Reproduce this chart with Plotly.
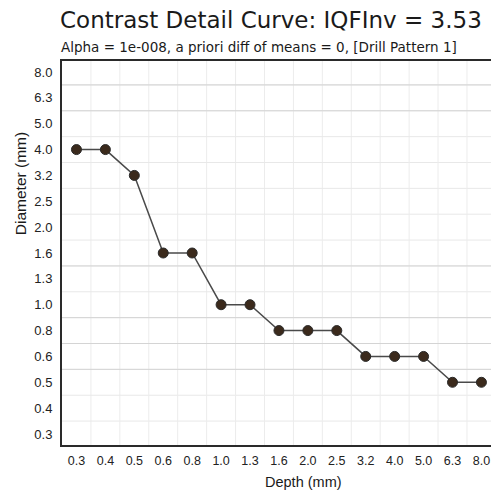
import plotly.graph_objects as go

depth_labels = ["0.3", "0.4", "0.5", "0.6", "0.8", "1.0", "1.3", "1.6", "2.0", "2.5", "3.2", "4.0", "5.0", "6.3", "8.0"]
diameter_labels = ["0.3", "0.4", "0.5", "0.6", "0.8", "1.0", "1.3", "1.6", "2.0", "2.5", "3.2", "4.0", "5.0", "6.3", "8.0"]
depth = ["0.3", "0.4", "0.5", "0.6", "0.8", "1.0", "1.3", "1.6", "2.0", "2.5", "3.2", "4.0", "5.0", "6.3", "8.0"]
diameter = ["4.0", "4.0", "3.2", "1.6", "1.6", "1.0", "1.0", "0.8", "0.8", "0.8", "0.6", "0.6", "0.6", "0.5", "0.5"]

fig = go.Figure()
fig.add_trace(go.Scatter(
    x=depth, y=diameter, mode="lines+markers",
    line=dict(color="#4a4a4a", width=1.5),
    marker=dict(size=10, color="#3b2a1c", line=dict(color="#2a2a2a", width=1)),
    showlegend=False,
))

n = len(depth_labels)
shapes = []
for i in range(n - 1):
    b = i + 0.5
    shapes.append(dict(type="line", xref="x", yref="paper", x0=b, x1=b, y0=0, y1=1,
                       line=dict(color="#ececec", width=1), layer="below"))
    shapes.append(dict(type="line", xref="paper", yref="y", x0=0, x1=1, y0=b, y1=b,
                       line=dict(color="#e8e8e8", width=1), layer="below"))
for b in [2.5, 3.5, 4.5, 6.5, 12.5, 13.5]:
    shapes.append(dict(type="line", xref="paper", yref="y", x0=0, x1=1, y0=b, y1=b,
                       line=dict(color="#d4d4d4", width=1), layer="below"))

OFF = 8
PL, PR, PT, PB = 62, 495, 61, 445
W, H = 499 - OFF, 490 - OFF

def px(x):
    return (x - PL) / (PR - PL)

def py(y):
    return (PB - y) / (PB - PT)

fig.update_layout(
    width=W, height=H,
    margin=dict(l=PL - OFF, r=W - (PR - OFF), t=PT - OFF, b=H - (PB - OFF)),
    paper_bgcolor="white", plot_bgcolor="white",
    font=dict(family="Liberation Sans, Arial, sans-serif", color="#222222", size=12),
    shapes=shapes,
    xaxis=dict(type="category", categoryorder="array", categoryarray=depth_labels,
               range=[-0.5, 14.4], showgrid=False, zeroline=False,
               showline=True, mirror=True, linecolor="#2a2a2a", linewidth=2,
               ticks="", ticklabelstandoff=3, tickfont=dict(size=12.5, color="#222222")),
    yaxis=dict(type="category", categoryorder="array", categoryarray=diameter_labels,
               range=[-0.425, 14.425], showgrid=False, zeroline=False,
               showline=True, mirror=True, linecolor="#2a2a2a", linewidth=2,
               ticks="", ticklabelstandoff=5, tickfont=dict(size=13, color="#222222")),
    annotations=[
        dict(text="Contrast Detail Curve: IQFInv = 3.53", xref="paper", yref="paper",
             x=px(272), y=py(20), xanchor="center", yanchor="middle",
             showarrow=False, font=dict(family="DejaVu Sans", size=23, color="#1a1a1a")),
        dict(text="Alpha = 1e-008, a priori diff of means = 0, [Drill Pattern 1]", xref="paper", yref="paper",
             x=px(260), y=py(47), xanchor="center", yanchor="middle",
             showarrow=False, font=dict(family="DejaVu Sans", size=13.5, color="#1a1a1a")),
        dict(text="Diameter (mm)", xref="paper", yref="paper", textangle=-90,
             x=px(20), y=py(184), xanchor="center", yanchor="middle",
             showarrow=False, font=dict(size=15.5, color="#1a1a1a")),
        dict(text="Depth (mm)", xref="paper", yref="paper",
             x=px(305), y=py(482), xanchor="center", yanchor="middle",
             showarrow=False, font=dict(size=14.5, color="#1a1a1a")),
    ],
)

fig.write_html("out.html")
